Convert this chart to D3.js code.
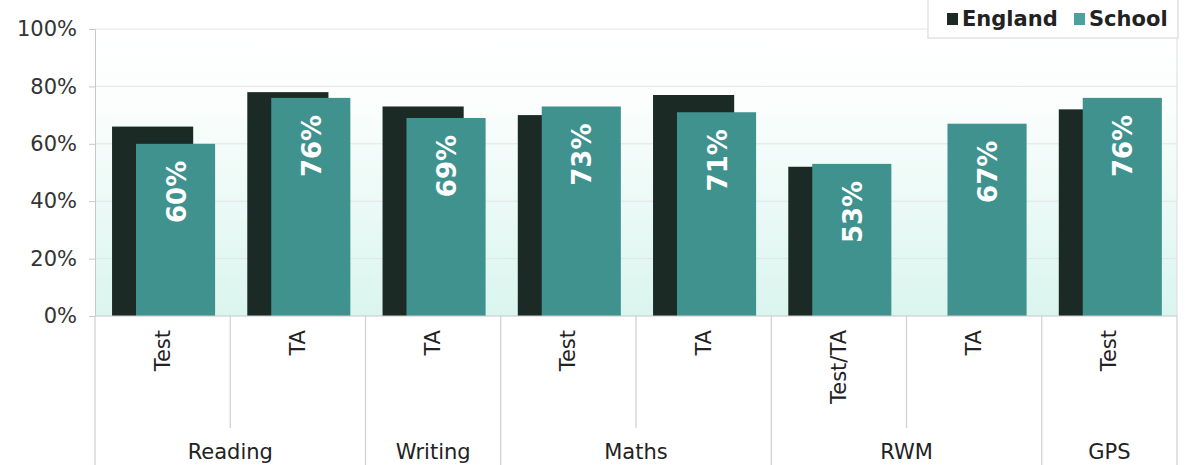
<!DOCTYPE html>
<html>
<head>
<meta charset="utf-8">
<script src="https://cdn.jsdelivr.net/npm/d3@7"></script>
<style>
  body { margin: 0; background: #fff; }
  text { font-family: "DejaVu Sans", Verdana, sans-serif; }
</style>
</head>
<body>
<div id="chart"></div>
<script>
// data
const subLabels = ["Test", "TA", "TA", "Test", "TA", "Test/TA", "TA", "Test"];
const subGroup  = ["Reading", "Reading", "Writing", "Maths", "Maths", "RWM", "RWM", "GPS"];
const groups    = ["Reading", "Writing", "Maths", "RWM", "GPS"];
const england   = [66, 78, 73, 70, 77, 52, null, 72];
const school    = [60, 76, 69, 73, 71, 53, 67, 76];
const yTicks    = [0, 20, 40, 60, 80, 100];

const width = 1190, height = 465;
const margin = { left: 95, right: 13, top: 29, bottom: 149 };
const innerWidth = width - margin.left - margin.right;
const innerHeight = height - margin.top - margin.bottom;

const colEngland = "#1b2a25", colSchool = "#40928f";

const svg = d3.select("#chart").append("svg")
  .attr("width", width).attr("height", height);

const defs = svg.append("defs");
const grad = defs.append("linearGradient").attr("id", "bg")
  .attr("x1", 0).attr("y1", 0).attr("x2", 0).attr("y2", 1);
grad.append("stop").attr("offset", "0%").attr("stop-color", "#ffffff");
grad.append("stop").attr("offset", "25%").attr("stop-color", "#fbfefd");
grad.append("stop").attr("offset", "100%").attr("stop-color", "#daf5ee");

const g = svg.append("g").attr("transform", `translate(${margin.left},${margin.top})`);

const idx = d3.range(subLabels.length);
const x = d3.scaleBand().domain(idx).range([0, innerWidth]).padding(0);
const y = d3.scaleLinear().domain([0, 100]).range([innerHeight, 0]);
const bw = x.bandwidth();

// plot background
g.append("rect").attr("width", innerWidth).attr("height", innerHeight).attr("fill", "url(#bg)");

// gridlines
g.append("g").selectAll("line").data(yTicks.slice(1)).join("line")
  .attr("x1", 0).attr("x2", innerWidth)
  .attr("y1", d => y(d)).attr("y2", d => y(d))
  .attr("stroke", "#e4e4e4").attr("stroke-width", 1);

// y axis
const yAxis = g.append("g")
  .call(d3.axisLeft(y).tickValues(yTicks).tickSize(6).tickPadding(12).tickFormat(d => d + "%"));
yAxis.select(".domain").attr("stroke", "#c8c8c8");
yAxis.selectAll(".tick line").attr("stroke", "#c8c8c8");
yAxis.selectAll("text").attr("font-size", 21).attr("fill", "#333")
  .style("font-family", "'DejaVu Sans', Verdana, sans-serif");

// right border
g.append("line").attr("x1", innerWidth).attr("x2", innerWidth)
  .attr("y1", 0).attr("y2", innerHeight).attr("stroke", "#dcdcdc");

// bars: England behind, School in front
g.append("g").selectAll("rect").data(idx.filter(i => england[i] != null)).join("rect")
  .attr("x", i => x(i) + bw * 0.126)
  .attr("width", bw * 0.6)
  .attr("y", i => y(england[i]))
  .attr("height", i => innerHeight - y(england[i]))
  .attr("fill", colEngland);

g.append("g").selectAll("rect").data(idx).join("rect")
  .attr("x", i => x(i) + bw * 0.303)
  .attr("width", bw * 0.585)
  .attr("y", i => y(school[i]))
  .attr("height", i => innerHeight - y(school[i]))
  .attr("fill", colSchool);

// value labels inside school bars
g.append("g").selectAll("text").data(idx).join("text")
  .attr("transform", i => `translate(${x(i) + bw * (0.303 + 0.585 / 2) + 10},${y(school[i]) + 17}) rotate(-90)`)
  .attr("text-anchor", "end")
  .attr("font-size", 26).attr("font-weight", "bold").attr("fill", "#fff")
  .text(i => school[i] + "%");

// x axis baseline
g.append("line").attr("x1", 0).attr("x2", innerWidth)
  .attr("y1", innerHeight).attr("y2", innerHeight).attr("stroke", "#c8c8c8");

// category dividers
const boundaries = d3.range(subLabels.length + 1);
g.append("g").selectAll("line").data(boundaries).join("line")
  .attr("x1", i => i * bw).attr("x2", i => i * bw)
  .attr("y1", innerHeight)
  .attr("y2", i => (i === 0 || i === subLabels.length || subGroup[i] !== subGroup[i - 1]) ? height - margin.top : innerHeight + 112)
  .attr("stroke", "#cfcfcf").attr("stroke-width", 1.2);

// sub-category labels
g.append("g").selectAll("text").data(idx).join("text")
  .attr("transform", i => `translate(${x(i) + bw / 2 + 7},${innerHeight + 14}) rotate(-90)`)
  .attr("text-anchor", "end")
  .attr("font-size", 21).attr("fill", "#222")
  .text(i => subLabels[i]);

// group labels
g.append("g").selectAll("text").data(groups).join("text")
  .attr("x", gr => {
    const members = idx.filter(i => subGroup[i] === gr);
    return (x(members[0]) + x(members[members.length - 1]) + bw) / 2;
  })
  .attr("y", innerHeight + 143)
  .attr("text-anchor", "middle")
  .attr("font-size", 21).attr("fill", "#222")
  .text(gr => gr);

// legend
const legend = svg.append("g").attr("transform", "translate(928,0)");
legend.append("rect").attr("x", 0).attr("y", -2).attr("width", 250).attr("height", 40)
  .attr("fill", "#fff").attr("stroke", "#e2e2e2").attr("stroke-width", 1.5);
const legItems = [["England", colEngland, 19], ["School", "#4aa29f", 146]];
legItems.forEach(([name, col, lx]) => {
  legend.append("rect").attr("x", lx).attr("y", 13).attr("width", 11).attr("height", 12).attr("fill", col);
  legend.append("text").attr("x", lx + 15).attr("y", 26)
    .attr("font-size", 21).attr("font-weight", "bold").attr("fill", "#222").text(name);
});
</script>
</body>
</html>
